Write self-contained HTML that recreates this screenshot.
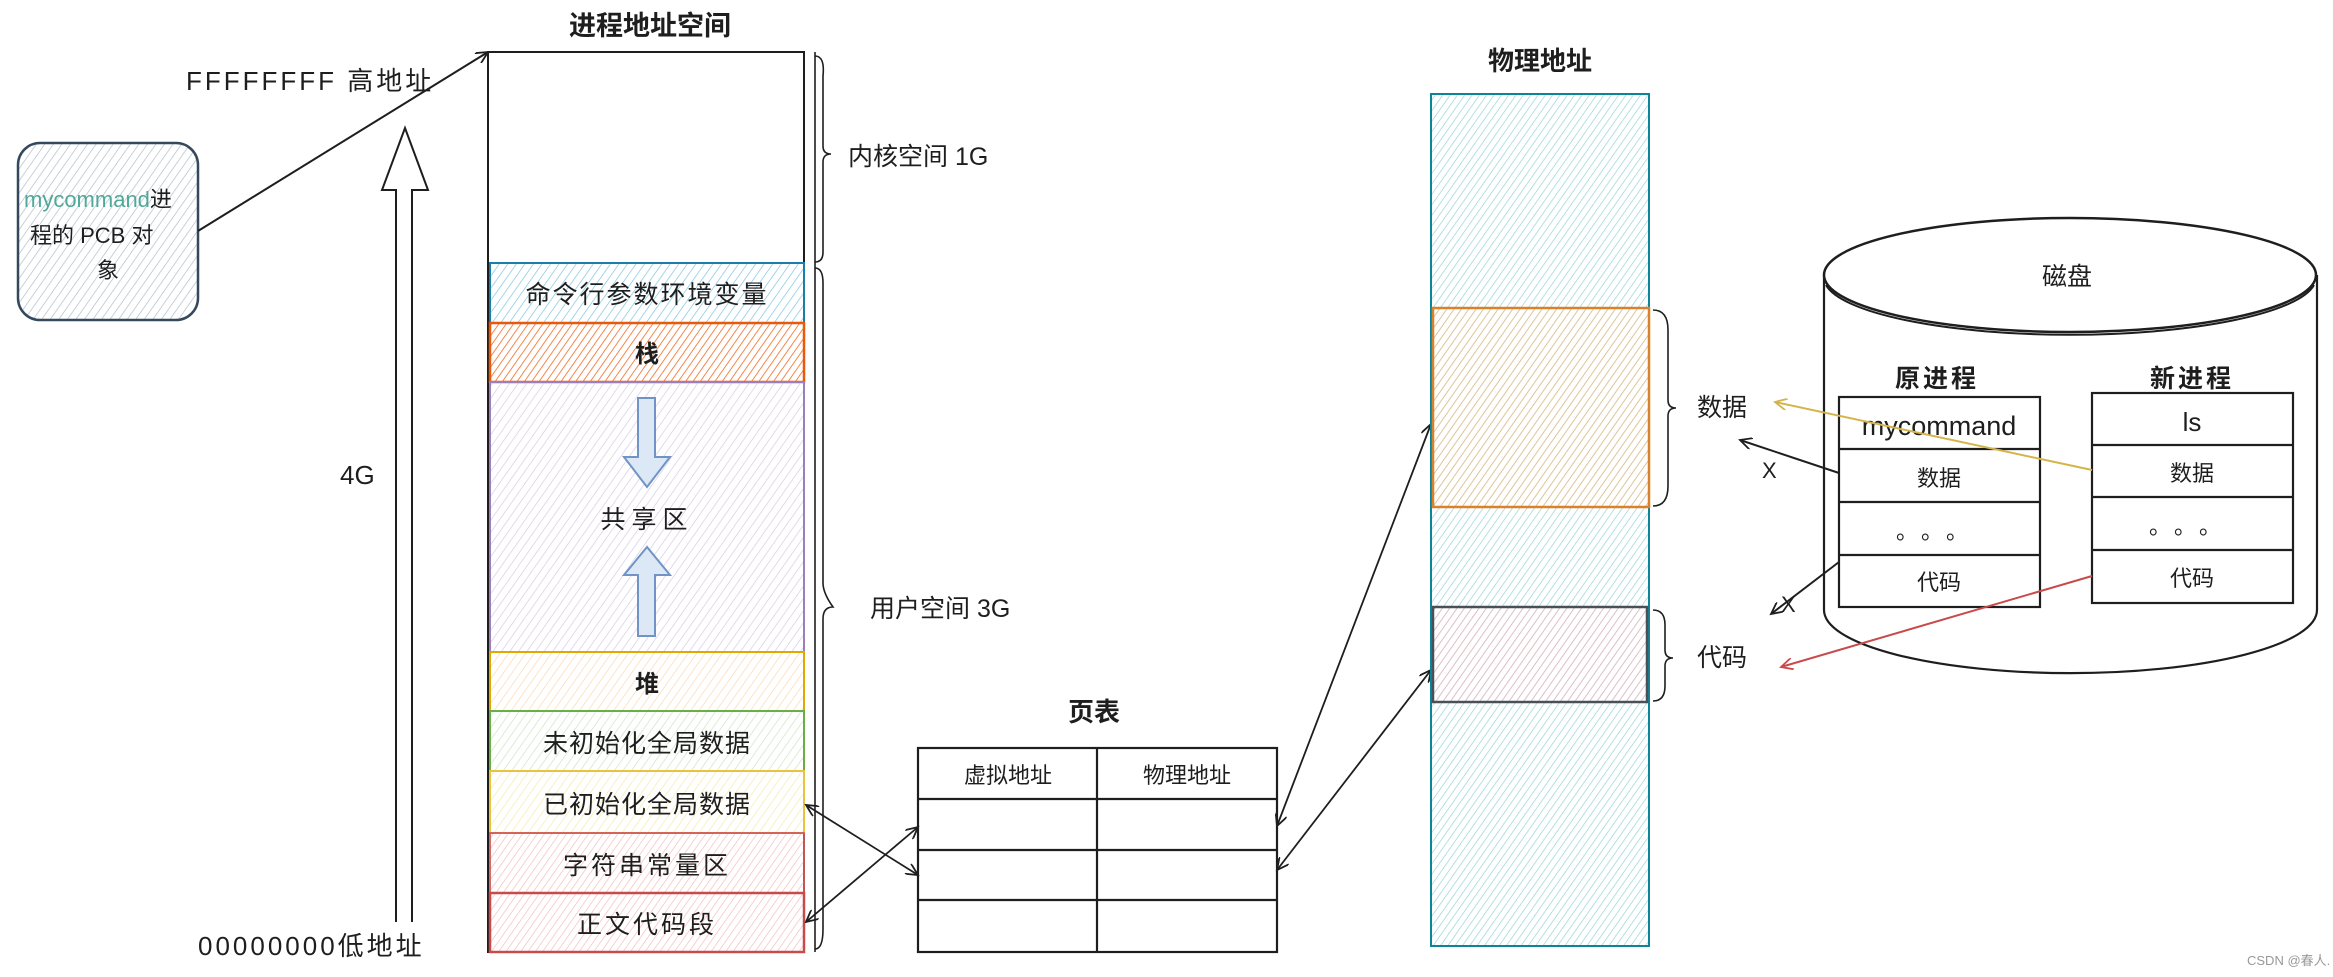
<!DOCTYPE html>
<html><head><meta charset="utf-8"><style>
html,body{margin:0;padding:0;background:#fff}
svg{display:block}
text{font-family:"Liberation Sans","Noto Sans CJK SC",sans-serif;fill:#1e1e1e}
.b{font-weight:bold}
</style></head><body>
<svg width="2333" height="977" viewBox="0 0 2333 977" xmlns="http://www.w3.org/2000/svg">
<defs>
<pattern id="hBlue" width="7" height="7" patternUnits="userSpaceOnUse" patternTransform="rotate(35)"><line x1="0" y1="0" x2="0" y2="7" stroke="#7fc4e0" stroke-width="1.4"/></pattern>
<pattern id="hOrange" width="6" height="6" patternUnits="userSpaceOnUse" patternTransform="rotate(35)"><line x1="0" y1="0" x2="0" y2="6" stroke="#f06a22" stroke-width="1.6"/></pattern>
<pattern id="hPurple" width="7" height="7" patternUnits="userSpaceOnUse" patternTransform="rotate(35)"><line x1="0" y1="0" x2="0" y2="7" stroke="#d4c6e4" stroke-width="1.3"/></pattern>
<pattern id="hPeach" width="7" height="7" patternUnits="userSpaceOnUse" patternTransform="rotate(35)"><line x1="0" y1="0" x2="0" y2="7" stroke="#fcd4ac" stroke-width="1.3"/></pattern>
<pattern id="hGreen" width="7" height="7" patternUnits="userSpaceOnUse" patternTransform="rotate(35)"><line x1="0" y1="0" x2="0" y2="7" stroke="#c8e2bb" stroke-width="1.3"/></pattern>
<pattern id="hYellow" width="7" height="7" patternUnits="userSpaceOnUse" patternTransform="rotate(35)"><line x1="0" y1="0" x2="0" y2="7" stroke="#fae6a6" stroke-width="1.3"/></pattern>
<pattern id="hRed" width="6" height="6" patternUnits="userSpaceOnUse" patternTransform="rotate(35)"><line x1="0" y1="0" x2="0" y2="6" stroke="#f5b8b8" stroke-width="1.3"/></pattern>
<pattern id="hCyan" width="6" height="6" patternUnits="userSpaceOnUse" patternTransform="rotate(35)"><line x1="0" y1="0" x2="0" y2="6" stroke="#94d4d8" stroke-width="1.4"/></pattern>
<pattern id="hOr2" width="6" height="6" patternUnits="userSpaceOnUse" patternTransform="rotate(35)"><line x1="0" y1="0" x2="0" y2="6" stroke="#f0bf82" stroke-width="1.5"/></pattern>
<pattern id="hPink" width="6" height="6" patternUnits="userSpaceOnUse" patternTransform="rotate(35)"><line x1="0" y1="0" x2="0" y2="6" stroke="#f2b4bc" stroke-width="1.4"/></pattern>
<pattern id="hSlate" width="7" height="7" patternUnits="userSpaceOnUse" patternTransform="rotate(35)"><line x1="0" y1="0" x2="0" y2="7" stroke="#b0bdca" stroke-width="1.4"/></pattern>
<marker id="ar" markerWidth="14" markerHeight="12" refX="12" refY="6" orient="auto-start-reverse" markerUnits="userSpaceOnUse"><path d="M0,0 L12,6 L0,12" fill="none" stroke="#1e1e1e" stroke-width="1.8"/></marker>
<marker id="arY" markerWidth="14" markerHeight="12" refX="12" refY="6" orient="auto" markerUnits="userSpaceOnUse"><path d="M0,0 L12,6 L0,12" fill="none" stroke="#d4b44a" stroke-width="1.8"/></marker>
<marker id="arR" markerWidth="14" markerHeight="12" refX="12" refY="6" orient="auto" markerUnits="userSpaceOnUse"><path d="M0,0 L12,6 L0,12" fill="none" stroke="#c94a4a" stroke-width="1.8"/></marker>
</defs>

<!-- PCB box -->
<rect x="18" y="143" width="180" height="177" rx="22" fill="url(#hSlate)" stroke="#34495e" stroke-width="2.5"/>
<text x="24" y="207" font-size="22"><tspan fill="#4fa89a">mycommand</tspan>进</text>
<text x="30" y="243" font-size="22">程的 PCB 对</text>
<text x="97" y="278" font-size="22">象</text>
<line x1="198" y1="231" x2="488" y2="52" stroke="#1e1e1e" stroke-width="2" marker-end="url(#ar)"/>

<text x="186" y="90" font-size="26" letter-spacing="3">FFFFFFFF 高地址</text>
<text x="198" y="955" font-size="26" letter-spacing="3">00000000低地址</text>
<text x="340" y="484" font-size="26">4G</text>

<!-- hollow big arrow -->
<path d="M396,922 L396,190 L382,190 L405,128 L428,190 L412,190 L412,922" fill="#fff" stroke="#1e1e1e" stroke-width="2"/>

<!-- title -->
<text x="650" y="35" font-size="27" class="b" text-anchor="middle">进程地址空间</text>

<!-- column -->
<rect x="488" y="52" width="316" height="900" fill="none" stroke="#1e1e1e" stroke-width="2"/>
<line x1="815" y1="52" x2="815" y2="952" stroke="#1e1e1e" stroke-width="1.6"/>
<path d="M815,56 q10,0 8,20 l0,70 q0,8 8,8 q-8,0 -8,8 l0,90 q0,10 -8,10" fill="none" stroke="#1e1e1e" stroke-width="1.6"/>
<path d="M815,268 q8,0 8,15 l0,300 q0,10 10,24 q-10,0 -10,12 l0,310 q0,20 -8,20" fill="none" stroke="#1e1e1e" stroke-width="1.6"/>

<rect x="490" y="263" width="314" height="60" fill="url(#hBlue)" stroke="#1c7ea8" stroke-width="2"/>
<text x="647" y="303" font-size="25" text-anchor="middle" letter-spacing="2">命令行参数环境变量</text>
<rect x="490" y="323" width="314" height="59" fill="url(#hOrange)" stroke="#e8590c" stroke-width="2.5"/>
<text x="647" y="362" font-size="24" text-anchor="middle" class="b">栈</text>
<rect x="490" y="382" width="314" height="270" fill="url(#hPurple)" stroke="#9b7fbd" stroke-width="2"/>
<text x="647" y="528" font-size="25" text-anchor="middle" letter-spacing="6">共享区</text>
<path d="M638,398 L655,398 L655,457 L670,457 L647,487 L624,457 L638,457 Z" fill="#dde8f7" stroke="#6f94c5" stroke-width="2"/>
<path d="M638,636 L655,636 L655,575 L670,575 L647,547 L624,575 L638,575 Z" fill="#dde8f7" stroke="#6f94c5" stroke-width="2"/>
<rect x="490" y="652" width="314" height="59" fill="url(#hPeach)" stroke="#e0a800" stroke-width="2"/>
<text x="647" y="692" font-size="24" text-anchor="middle" class="b">堆</text>
<rect x="490" y="711" width="314" height="60" fill="url(#hGreen)" stroke="#6aaf45" stroke-width="2"/>
<text x="647" y="752" font-size="25" text-anchor="middle" letter-spacing="1">未初始化全局数据</text>
<rect x="490" y="771" width="314" height="62" fill="url(#hYellow)" stroke="#e8c340" stroke-width="2"/>
<text x="647" y="813" font-size="25" text-anchor="middle" letter-spacing="1">已初始化全局数据</text>
<rect x="490" y="833" width="314" height="60" fill="url(#hRed)" stroke="#d25a5a" stroke-width="1.8"/>
<text x="647" y="874" font-size="25" text-anchor="middle" letter-spacing="3">字符串常量区</text>
<rect x="490" y="893" width="314" height="59" fill="url(#hRed)" stroke="#c94a4a" stroke-width="2.5"/>
<text x="647" y="933" font-size="25" text-anchor="middle" letter-spacing="3">正文代码段</text>

<text x="848" y="165" font-size="25">内核空间 1G</text>
<text x="870" y="617" font-size="25">用户空间 3G</text>

<!-- page table -->
<text x="1094" y="721" font-size="26" class="b" text-anchor="middle">页表</text>
<g fill="none" stroke="#1e1e1e" stroke-width="2.2">
<rect x="918" y="748" width="359" height="204"/>
<line x1="1097" y1="748" x2="1097" y2="952"/>
<line x1="918" y1="799" x2="1277" y2="799"/>
<line x1="918" y1="850" x2="1277" y2="850"/>
<line x1="918" y1="900" x2="1277" y2="900"/>
</g>
<text x="1008" y="783" font-size="22" text-anchor="middle">虚拟地址</text>
<text x="1187" y="783" font-size="22" text-anchor="middle">物理地址</text>

<g stroke="#1e1e1e" stroke-width="1.8" fill="none">
<line x1="806" y1="805" x2="918" y2="875" marker-start="url(#ar)" marker-end="url(#ar)"/>
<line x1="806" y1="922" x2="918" y2="827" marker-start="url(#ar)" marker-end="url(#ar)"/>
<line x1="1277" y1="826" x2="1431" y2="424" marker-start="url(#ar)" marker-end="url(#ar)"/>
<line x1="1277" y1="870" x2="1431" y2="670" marker-start="url(#ar)" marker-end="url(#ar)"/>
</g>

<!-- physical -->
<text x="1540" y="70" font-size="26" class="b" text-anchor="middle">物理地址</text>
<rect x="1431" y="94" width="218" height="852" fill="url(#hCyan)" stroke="#0c8599" stroke-width="2"/>
<rect x="1433" y="308" width="216" height="199" fill="url(#hOr2)" stroke="#d9822b" stroke-width="2.5"/>
<rect x="1433" y="607" width="214" height="95" fill="url(#hPink)" stroke="#495057" stroke-width="2.5"/>
<path d="M1653,310 q15,0 15,20 l0,70 q0,8 8,8 q-8,0 -8,8 l0,70 q0,20 -15,20" fill="none" stroke="#1e1e1e" stroke-width="1.6"/>
<path d="M1653,610 q12,0 12,15 l0,25 q0,8 8,8 q-8,0 -8,8 l0,20 q0,15 -12,15" fill="none" stroke="#1e1e1e" stroke-width="1.6"/>
<text x="1697" y="416" font-size="25">数据</text>
<text x="1697" y="666" font-size="25">代码</text>

<!-- disk -->
<path d="M1824,275 L1824,610 A246,63 0 0 0 2317,610 L2317,275" fill="#fff" stroke="#1e1e1e" stroke-width="2.2"/>
<ellipse cx="2070" cy="275" rx="246" ry="57" fill="#fff" stroke="#1e1e1e" stroke-width="2.5"/>
<path d="M1826,285 A246,57 0 0 0 2314,285" fill="none" stroke="#1e1e1e" stroke-width="2"/>
<text x="2067" y="285" font-size="25" text-anchor="middle">磁盘</text>
<text x="1937" y="387" font-size="25" class="b" text-anchor="middle" letter-spacing="3">原进程</text>
<text x="2192" y="387" font-size="25" class="b" text-anchor="middle" letter-spacing="3">新进程</text>
<g fill="#fff" stroke="#1e1e1e" stroke-width="2.2">
<rect x="1839" y="397" width="201" height="210"/>
<rect x="2092" y="393" width="201" height="210"/>
</g>
<g stroke="#1e1e1e" stroke-width="2.2">
<line x1="1839" y1="449" x2="2040" y2="449"/><line x1="1839" y1="502" x2="2040" y2="502"/><line x1="1839" y1="555" x2="2040" y2="555"/>
<line x1="2092" y1="445" x2="2293" y2="445"/><line x1="2092" y1="497" x2="2293" y2="497"/><line x1="2092" y1="550" x2="2293" y2="550"/>
</g>
<text x="1939" y="435" font-size="27" text-anchor="middle">mycommand</text>
<text x="1939" y="486" font-size="22" text-anchor="middle">数据</text>
<text x="1939" y="539" font-size="22" text-anchor="middle" letter-spacing="14">。。。</text>
<text x="1939" y="590" font-size="22" text-anchor="middle">代码</text>
<text x="2192" y="431" font-size="26" text-anchor="middle">ls</text>
<text x="2192" y="481" font-size="22" text-anchor="middle">数据</text>
<text x="2192" y="534" font-size="22" text-anchor="middle" letter-spacing="14">。。。</text>
<text x="2192" y="586" font-size="22" text-anchor="middle">代码</text>

<line x1="2092" y1="470" x2="1775" y2="402" stroke="#d4b44a" stroke-width="2" marker-end="url(#arY)"/>
<line x1="2092" y1="576" x2="1781" y2="667" stroke="#c94a4a" stroke-width="2" marker-end="url(#arR)"/>
<line x1="1839" y1="473" x2="1740" y2="440" stroke="#1e1e1e" stroke-width="2" marker-end="url(#ar)"/>
<line x1="1839" y1="562" x2="1771" y2="614" stroke="#1e1e1e" stroke-width="2" marker-end="url(#ar)"/>
<text x="1762" y="478" font-size="22">X</text>
<text x="1781" y="612" font-size="22">X</text>

<text x="2247" y="965" font-size="13" style="fill:#999">CSDN @春人.</text>
</svg>
</body></html>
